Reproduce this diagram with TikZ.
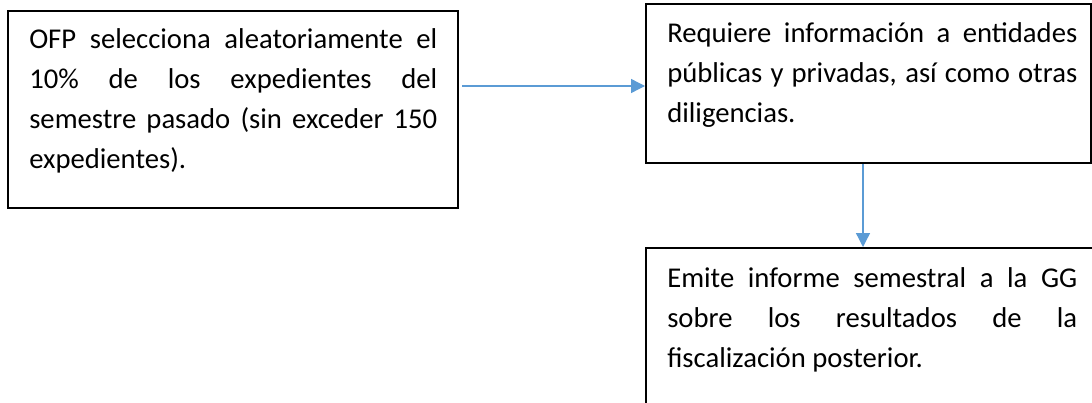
\documentclass[tikz,border=0pt]{standalone}
\usepackage{fontspec}
\setmainfont{Carlito}
\usetikzlibrary{arrows.meta}
\definecolor{arrowblue}{HTML}{5B9BD5}
\tolerance=10000
\hyphenpenalty=10000
\begin{document}
\begin{tikzpicture}[x=0.75pt,y=-0.75pt,
  box/.style={draw=black, line width=1.5pt, inner sep=0pt},
  txt/.style={font=\fontsize{21.5}{30}\selectfont, align=justify, inner sep=0pt, anchor=base west},
  conn/.style={draw=arrowblue, line width=1pt, -{Triangle[length=10.5pt,width=10.5pt]}}
]
\fill[white] (0,0) rectangle (1092,403);
\clip (0,0) rectangle (1092,403);
\node[box, minimum width=337.5pt, minimum height=147.75pt] (b1) at (233,109.5) {};
\node[box, minimum width=333.75pt, minimum height=119.25pt] (b2) at (868.5,83.5) {};
\node[box, minimum width=344.25pt, minimum height=129pt] (b3) at (875.5,334) {};
\node[txt, text width=306pt] (t1) at (29,49) {OFP selecciona aleatoriamente el\linebreak 10\% de los expedientes del\linebreak semestre pasado (sin exceder 150\linebreak expedientes).};
\node[txt, text width=307.5pt] (t2) at (667,43) {Requiere información a entidades\linebreak públicas y privadas, así como otras\linebreak diligencias.};
\node[txt, text width=307.5pt] (t3) at (667,287) {Emite informe semestral a la GG\linebreak sobre los resultados de la\linebreak fiscalización posterior.};
\coordinate (a1) at (462,86);
\coordinate (a2) at (863,0);
\draw[conn] (a1) -- (a1 -| b2.west);
\draw[conn] (b2.south -| a2) -- (b3.north -| a2);
\end{tikzpicture}
\end{document}
